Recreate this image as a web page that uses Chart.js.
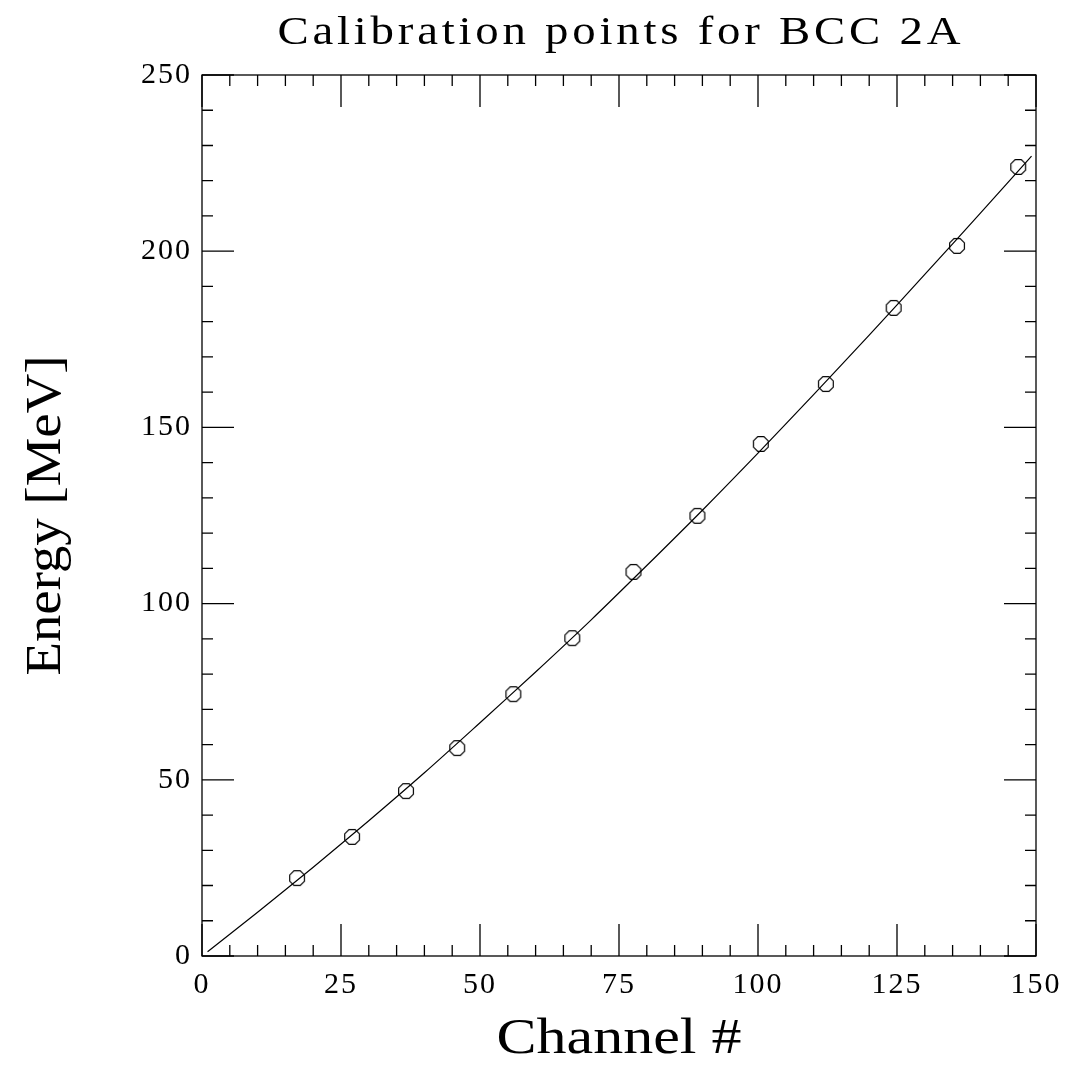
<!DOCTYPE html>
<html>
<head>
<meta charset="utf-8">
<script src="https://cdn.jsdelivr.net/npm/chart.js@4/dist/chart.umd.min.js"></script>
<style>
  body { margin: 0; background: #fff; }
  canvas { display: block; }
</style>
</head>
<body>
<canvas id="calib" width="1068" height="1066"></canvas>
<script>
// calibration points
const channel = [17.1, 27.0, 36.7, 45.9, 56.0, 66.6, 77.6, 89.1, 100.5, 112.2, 124.4, 135.8, 146.8];
const energy  = [22.1, 33.8, 46.8, 59.0, 74.3, 90.2, 109.0, 124.9, 145.3, 162.3, 183.9, 201.5, 223.9];

// fitted curve, sampled by eye along the drawn line
const fitX = [1, 10, 20, 30, 40, 50, 60, 70, 80, 90, 100, 110, 120, 130, 140, 149.2];
const fitY = [1.2, 12.4, 25.2, 38.4, 52.0, 66.2, 80.6, 95.4, 110.8, 126.5, 142.7, 159.3, 176.2, 193.4, 210.8, 227.0];

const xTicks = [0, 25, 50, 75, 100, 125, 150];
const yTicks = [0, 50, 100, 150, 200, 250];

const TITLE = 'Calibration points for BCC 2A';
const X_TITLE = 'Channel #';
const Y_TITLE = 'Energy [MeV]';
const FONT = "'Liberation Serif', 'DejaVu Serif', serif";

// hollow octagon marker
function octagon(r) {
  const c = document.createElement('canvas');
  const s = Math.ceil(r * 2 + 4);
  c.width = s; c.height = s;
  const g = c.getContext('2d');
  g.strokeStyle = '#000';
  g.lineWidth = 1.2;
  g.beginPath();
  for (let i = 0; i < 8; i++) {
    const a = Math.PI / 8 + i * Math.PI / 4;
    const px = s / 2 + r * Math.cos(a), py = s / 2 + r * Math.sin(a);
    i ? g.lineTo(px, py) : g.moveTo(px, py);
  }
  g.closePath();
  g.stroke();
  return c;
}

// wide plotter-style lettering: stretch glyphs a bit, then spread the rest
function wideText(ctx, text, x, y, width) {
  ctx.letterSpacing = '0px';
  const w = ctx.measureText(text).width;
  const sx = Math.min(width / w, 1.2);
  const sp = (width / sx - w) / (text.length - 1);
  ctx.save();
  ctx.translate(x - width / 2, y);
  ctx.scale(sx, 1);
  ctx.letterSpacing = sp + 'px';
  ctx.textAlign = 'left';
  ctx.fillText(text, 0, 0);
  ctx.restore();
}

// frame with inward ticks on all four sides, plus the titles
const frameTicks = {
  id: 'frameTicks',
  beforeDraw(chart) {
    chart.ctx.letterSpacing = '2px';
  },
  afterDatasetsDraw(chart) {
    const { ctx, chartArea: a, scales: { x, y } } = chart;
    ctx.save();
    ctx.strokeStyle = '#000';
    ctx.lineWidth = 1.3;
    ctx.strokeRect(a.left, a.top, a.right - a.left, a.bottom - a.top);
    ctx.beginPath();
    for (let v = 0; v <= 150; v += 5) {
      const px = x.getPixelForValue(v);
      const len = v % 25 === 0 ? 32 : 11;
      ctx.moveTo(px, a.bottom); ctx.lineTo(px, a.bottom - len);
      ctx.moveTo(px, a.top); ctx.lineTo(px, a.top + len);
    }
    for (let v = 0; v <= 250; v += 10) {
      const py = y.getPixelForValue(v);
      const len = v % 50 === 0 ? 32 : 11;
      ctx.moveTo(a.left, py); ctx.lineTo(a.left + len, py);
      ctx.moveTo(a.right, py); ctx.lineTo(a.right - len, py);
    }
    ctx.stroke();

    ctx.fillStyle = '#000';
    ctx.textBaseline = 'alphabetic';
    const cx = (a.left + a.right) / 2, cy = (a.top + a.bottom) / 2;
    ctx.font = '39px ' + FONT;
    wideText(ctx, TITLE, cx, 44, 683);
    ctx.font = '50px ' + FONT;
    wideText(ctx, X_TITLE, cx, 1053, 245);
    ctx.translate(60, cy);
    ctx.rotate(-Math.PI / 2);
    wideText(ctx, Y_TITLE, 0, 0, 320);
    ctx.restore();
  },
  afterDraw(chart) {
    chart.ctx.letterSpacing = '0px';
  }
};

new Chart(document.getElementById('calib'), {
  type: 'scatter',
  data: {
    datasets: [{
      label: 'points',
      data: channel.map((c, i) => ({ x: c, y: energy[i] })),
      pointStyle: octagon(8),
      pointRadius: 8,
      showLine: false
    }, {
      label: 'fit',
      data: fitX.map((c, i) => ({ x: c, y: fitY[i] })),
      showLine: true,
      borderColor: '#000',
      borderWidth: 1.2,
      pointRadius: 0,
      tension: 0.3
    }]
  },
  options: {
    responsive: false,
    animation: false,
    layout: { padding: { top: 75, right: 32, left: 0, bottom: 0 } },
    plugins: {
      legend: { display: false },
      tooltip: { enabled: false }
    },
    scales: {
      x: {
        type: 'linear',
        min: 0, max: 150,
        afterBuildTicks: s => { s.ticks = xTicks.map(v => ({ value: v })); },
        afterFit: s => { s.height = 110; s.paddingLeft = 0; s.paddingRight = 0; },
        grid: { display: false, drawTicks: false },
        border: { display: false },
        ticks: { color: '#000', padding: 11, font: { family: FONT, size: 30 } }
      },
      y: {
        type: 'linear',
        min: 0, max: 250,
        afterBuildTicks: s => { s.ticks = yTicks.map(v => ({ value: v })); },
        afterFit: s => { s.width = 202; s.paddingTop = 0; s.paddingBottom = 0; },
        grid: { display: false, drawTicks: false },
        border: { display: false },
        ticks: { color: '#000', padding: 10, font: { family: FONT, size: 30 } }
      }
    }
  },
  plugins: [frameTicks]
});
</script>
</body>
</html>
